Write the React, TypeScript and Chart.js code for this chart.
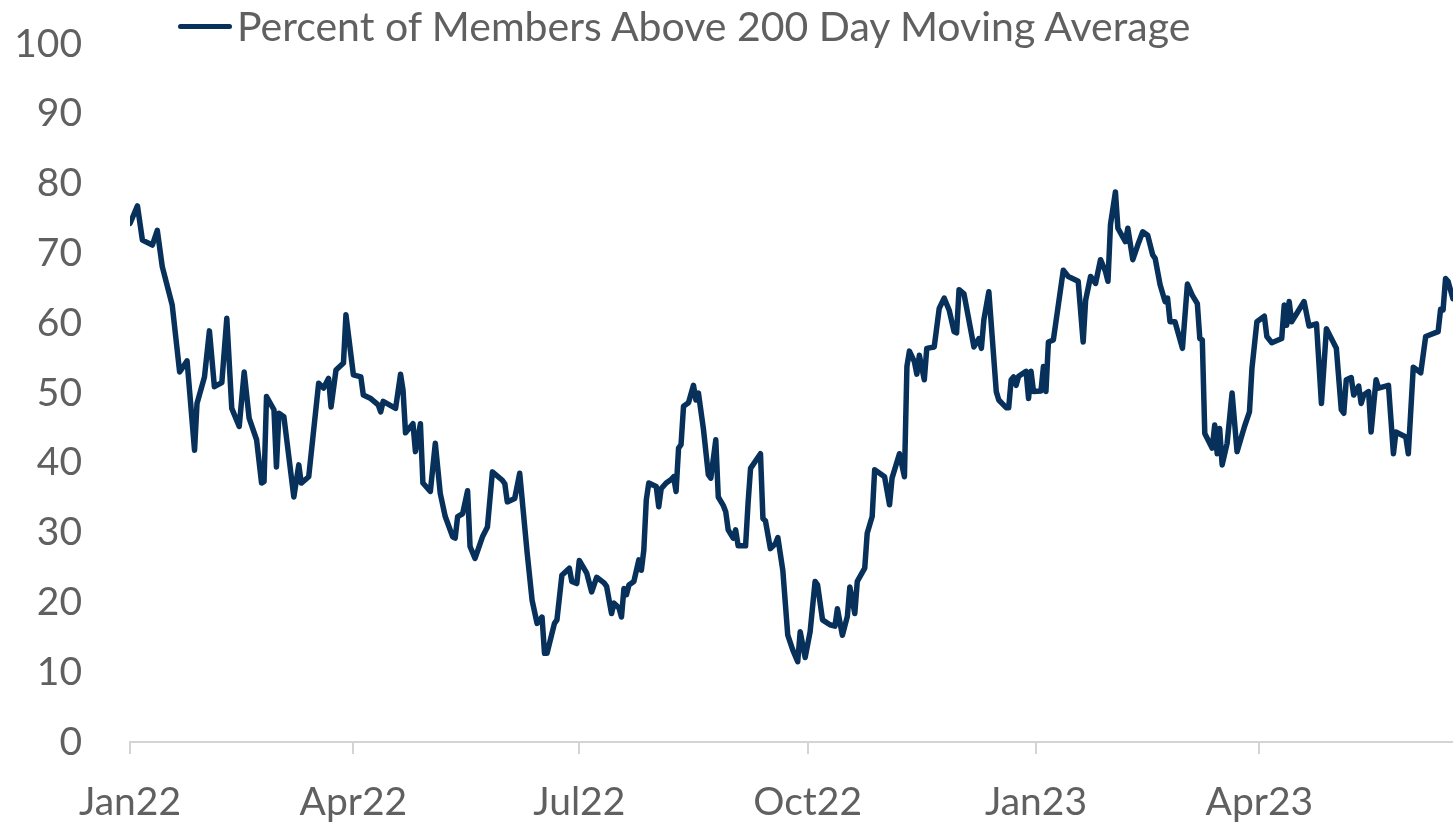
import React, { useEffect, useRef } from 'react';
import { Chart, registerables } from 'chart.js';

Chart.register(...registerables);

// Days since 2022-01-01
const dayOffsets = [
  0, 3, 5, 9, 11, 13, 17, 20, 23, 26, 27, 30, 32, 34, 37, 39, 41, 44, 46, 48,
  51, 53, 54, 55, 58, 59, 60, 62, 66, 68, 69, 72, 76, 78, 80, 81, 83, 86, 87, 90,
  93, 94, 97, 100, 101, 102, 107, 109, 110, 111, 114, 115, 117, 118, 121, 123, 125, 127, 130, 131,
  132, 134, 136, 137, 139, 142, 144, 146, 150, 151, 152, 155, 157, 160, 162, 164, 166, 167, 168, 171,
  172, 174, 177, 178, 180, 181, 184, 186, 188, 191, 192, 194, 195, 197, 198, 199, 200, 201, 203, 205,
  206, 207, 208, 209, 212, 213, 214, 216, 218, 219, 220, 221, 222, 223, 225, 227, 228, 229, 231, 233,
  234, 236, 237, 239, 240, 241, 243, 244, 245, 248, 249, 250, 254, 255, 256, 258, 260, 261, 263, 265,
  267, 269, 270, 272, 274, 276, 277, 279, 282, 284, 285, 287, 289, 290, 292, 293, 296, 297, 299, 300,
  304, 306, 307, 310, 312, 313, 314, 316, 317, 318, 320, 321, 324, 326, 328, 330, 332, 333, 334, 336,
  340, 342, 343, 344, 346, 349, 350, 353, 354, 355, 356, 357, 358, 361, 362, 363, 364, 367, 368, 369,
  370, 372, 376, 378, 382, 384, 385, 387, 389, 391, 393, 394, 395, 397, 398, 401, 402, 404, 406, 408,
  410, 412, 413, 415, 417, 418, 419, 421, 424, 426, 428, 430, 431, 432, 433, 436, 437, 438, 439, 440,
  442, 444, 446, 449, 451, 452, 454, 457, 458, 460, 464, 465, 466, 467, 468, 473, 475, 478, 480, 482,
  486, 488, 489, 490, 492, 493, 495, 496, 497, 499, 500, 502, 503, 507, 509, 510, 514, 515, 517, 520,
  522, 527, 528, 529, 530, 531, 533,
];

// Percent of members above the 200-day moving average
const values = [
  74.3, 76.8, 71.9, 71.2, 73.3, 68.1, 62.6, 53.0, 54.6, 41.8, 48.5, 52.3, 58.9, 50.9, 51.5, 60.7, 47.8, 45.2, 53.0, 46.4,
  43.3, 37.1, 37.3, 49.5, 47.6, 39.4, 47.1, 46.6, 35.1, 39.7, 37.1, 38.0, 51.4, 50.7, 52.1, 48.0, 53.3, 54.3, 61.2, 52.6,
  52.3, 49.7, 49.2, 48.3, 47.3, 48.8, 47.8, 52.7, 50.4, 44.3, 45.6, 41.6, 45.6, 37.1, 35.9, 42.8, 35.6, 32.3, 29.4, 29.2,
  32.3, 32.7, 36.0, 28.0, 26.3, 29.4, 30.8, 38.7, 37.5, 37.0, 34.4, 34.9, 38.5, 27.1, 20.3, 17.0, 17.9, 12.7, 12.7, 17.0,
  17.5, 23.9, 24.9, 23.0, 22.7, 26.0, 24.2, 21.5, 23.6, 22.8, 22.3, 18.4, 19.9, 19.2, 17.9, 22.0, 21.1, 22.5, 23.0, 26.1,
  24.6, 27.5, 34.7, 37.1, 36.6, 33.7, 36.3, 37.1, 37.6, 38.0, 35.9, 42.1, 42.6, 48.1, 48.6, 51.1, 49.0, 50.0, 44.9, 38.3,
  37.8, 43.3, 35.1, 33.9, 33.0, 30.4, 29.2, 30.4, 28.1, 28.1, 34.2, 39.2, 41.3, 32.0, 31.7, 27.7, 28.4, 29.3, 24.6, 15.3,
  13.2, 11.5, 15.8, 12.1, 15.8, 23.0, 22.5, 17.5, 16.8, 16.6, 19.1, 15.3, 18.0, 22.2, 18.4, 23.0, 24.9, 29.9, 32.3, 39.0,
  38.0, 34.0, 37.8, 41.3, 38.0, 53.8, 56.0, 54.5, 52.7, 55.4, 51.9, 56.4, 56.6, 62.1, 63.6, 61.9, 58.8, 58.6, 64.8, 64.2,
  56.6, 57.8, 56.4, 60.5, 64.5, 50.2, 49.0, 47.9, 47.9, 51.9, 52.3, 51.1, 52.4, 53.1, 49.2, 53.1, 50.2, 50.3, 53.8, 50.2,
  57.3, 57.6, 67.6, 66.7, 66.0, 57.3, 63.3, 66.7, 65.7, 69.1, 67.4, 66.0, 74.1, 78.8, 73.6, 71.7, 73.6, 69.1, 71.2, 73.1,
  72.6, 69.8, 69.3, 65.5, 63.1, 63.6, 60.2, 60.2, 56.4, 65.6, 64.0, 62.8, 57.8, 57.6, 44.2, 42.1, 45.4, 41.3, 44.9, 39.7,
  42.8, 50.0, 41.6, 45.2, 47.3, 53.5, 60.2, 61.0, 58.1, 57.2, 57.8, 62.6, 59.7, 63.1, 60.2, 63.1, 59.6, 59.9, 48.5, 59.2,
  56.4, 47.6, 47.1, 51.9, 52.2, 49.7, 51.0, 48.5, 49.7, 50.2, 44.4, 51.9, 50.7, 51.1, 41.3, 44.4, 43.7, 41.3, 53.7, 52.9,
  58.1, 58.8, 62.0, 61.9, 66.4, 66.0, 63.5,
];

const tickDays = [0, 90, 181, 273, 365, 455];
const tickLabels = ['Jan22', 'Apr22', 'Jul22', 'Oct22', 'Jan23', 'Apr23'];
const seriesLabel = 'Percent of Members Above 200 Day Moving Average';

const NAVY = '#07315a';
const TEXT = '#606060';
const AXIS = '#d4d4d4';
const FONT = 'Lato, Roboto, sans-serif';

export default function App() {
  const canvasRef = useRef<HTMLCanvasElement | null>(null);

  useEffect(() => {
    const canvas = canvasRef.current;
    if (!canvas) return;
    const points = dayOffsets.map((d, i) => ({ x: d, y: values[i] }));
    const chart = new Chart(canvas, {
      type: 'line',
      data: {
        datasets: [
          {
            label: seriesLabel,
            data: points,
            borderColor: NAVY,
            backgroundColor: NAVY,
            borderWidth: 5.5,
            pointRadius: 0,
            tension: 0,
            fill: false,
            borderJoinStyle: 'round',
            borderCapStyle: 'round',
          },
        ],
      },
      options: {
        animation: false,
        responsive: false,
        devicePixelRatio: 1,
        layout: { padding: { top: 44, left: 0, right: 0, bottom: 0 } },
        plugins: {
          legend: { display: false },
          tooltip: { enabled: false },
        },
        scales: {
          x: {
            type: 'linear',
            min: 0,
            max: 533,
            afterBuildTicks: (scale: any) => {
              scale.ticks = tickDays.map((v) => ({ value: v }));
            },
            afterFit: (scale: any) => {
              scale.height = 81;
              scale.paddingLeft = 0;
              scale.paddingRight = 0;
            },
            ticks: {
              autoSkip: false,
              maxRotation: 0,
              color: TEXT,
              padding: 25,
              font: { family: FONT, size: 39 },
              callback: (v: any) => {
                const i = tickDays.indexOf(Number(v));
                return i >= 0 ? tickLabels[i] : '';
              },
            },
            grid: {
              drawOnChartArea: false,
              drawTicks: true,
              tickLength: 12,
              color: AXIS,
              lineWidth: 2,
            },
            border: { display: true, color: AXIS, width: 2 },
          },
          y: {
            min: 0,
            max: 100,
            afterFit: (scale: any) => {
              scale.width = 130;
              scale.paddingTop = 0;
              scale.paddingBottom = 0;
            },
            ticks: {
              stepSize: 10,
              color: TEXT,
              padding: 48,
              font: { family: FONT, size: 39 },
            },
            grid: { display: false, drawTicks: false },
            border: { display: false },
          },
        },
      },
    });
    return () => chart.destroy();
  }, []);

  return (
    <div style={{ position: 'absolute', left: 0, top: 0, width: 1453, height: 823, background: '#fff' }}>
      <canvas ref={canvasRef} width={1453} height={823} style={{ display: 'block' }} />
      <div
        style={{
          position: 'absolute',
          left: 178,
          top: 4,
          display: 'flex',
          alignItems: 'center',
          fontFamily: FONT,
          fontSize: 41,
          lineHeight: '44px',
          color: TEXT,
          whiteSpace: 'nowrap',
        }}
      >
        <span style={{ display: 'inline-block', width: 54, height: 5, background: NAVY, borderRadius: 2.5, marginRight: 5 }} />
        <span>{seriesLabel}</span>
      </div>
    </div>
  );
}
